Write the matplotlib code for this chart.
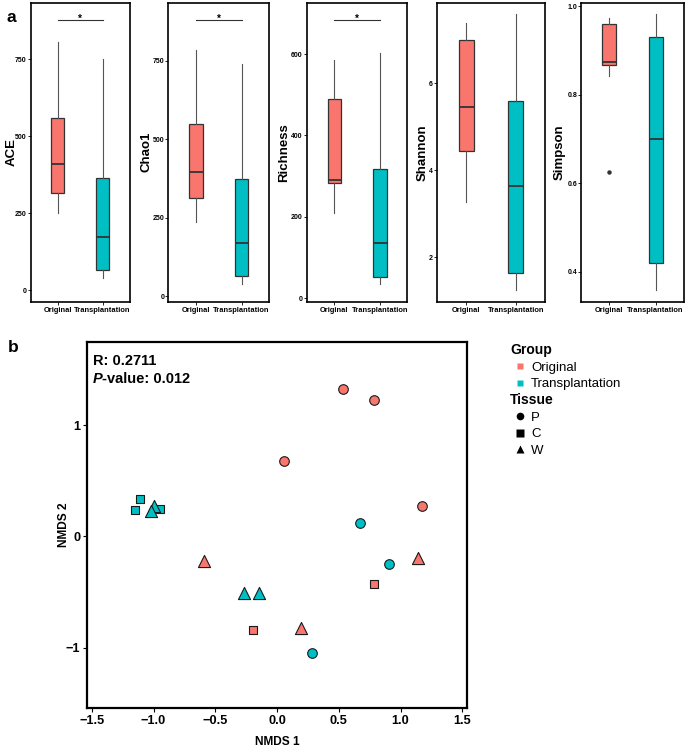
import matplotlib
matplotlib.use("Agg")
import matplotlib.pyplot as plt
from matplotlib.lines import Line2D
from matplotlib.ticker import FormatStrFormatter

plt.rcParams['font.family'] = ['Liberation Sans', 'DejaVu Sans']

# ---------------- data ----------------
groups = ["Original", "Transplantation"]
colors = {"Original": "#F8766D", "Transplantation": "#00BFC4"}

metrics = ["ACE", "Chao1", "Richness", "Shannon", "Simpson"]
# (whislo, q1, med, q3, whishi)
orig_stats = {
    "ACE": (249, 316, 411, 558, 805),
    "Chao1": (237, 314, 397, 549, 786),
    "Richness": (210, 284, 290, 489, 585),
    "Shannon": (3.26, 4.45, 5.46, 7.00, 7.38),
    "Simpson": (0.841, 0.866, 0.874, 0.960, 0.974),
}
trans_stats = {
    "ACE": (40, 65, 172, 365, 751),
    "Chao1": (38, 65, 169, 374, 739),
    "Richness": (34, 52, 135, 317, 603),
    "Shannon": (1.25, 1.63, 3.65, 5.60, 7.59),
    "Simpson": (0.359, 0.419, 0.699, 0.929, 0.982),
}
orig_fliers = {"ACE": [], "Chao1": [], "Richness": [], "Shannon": [], "Simpson": [0.626]}
trans_fliers = {m: [] for m in metrics}
ylims = {
    "ACE": (-38, 934),
    "Chao1": (-18, 936),
    "Richness": (-8.3, 726),
    "Shannon": (0.979, 7.853),
    "Simpson": (0.332, 1.0075),
}
yticks = {
    "ACE": [0, 250, 500, 750],
    "Chao1": [0, 250, 500, 750],
    "Richness": [0, 200, 400, 600],
    "Shannon": [2, 4, 6],
    "Simpson": [0.4, 0.6, 0.8, 1.0],
}
sig_y = {"ACE": 878, "Chao1": 882, "Richness": 684}
sig_label = "*"

# NMDS
nmds_group = (["Original"] * 9) + (["Transplantation"] * 10)
nmds_tissue = ["P", "P", "P", "P", "C", "C", "W", "W", "W",
               "P", "P", "P", "C", "C", "C", "W", "W", "W", "W"]
nmds1 = [0.532, 0.787, 1.173, 0.057, 0.787, -0.192, -0.590, 0.195, 1.140,
         0.670, 0.903, 0.281, -1.109, -1.149, -0.946, -0.270, -0.146, -1.000, -1.022]
nmds2 = [1.323, 1.222, 0.275, 0.674, -0.429, -0.844, -0.219, -0.827, -0.198,
         0.117, -0.246, -1.050, 0.332, 0.236, 0.242, -0.510, -0.510, 0.272, 0.230]
tissues = ["P", "C", "W"]
markers = {"P": "o", "C": "s", "W": "^"}
msizes = {"P": 48, "C": 38, "W": 76}
anosim_R = "0.2711"
anosim_p = "0.012"

# ---------------- figure ----------------
W, H = 685, 747
fig = plt.figure(figsize=(W / 100, H / 100), dpi=100)


def rect(l, r, t, b):
    return [l / W, 1 - b / H, (r - l) / W, (b - t) / H]


panel_px = [(30.7, 129.5), (168.3, 269), (307, 407.3), (436.7, 545.3), (581.3, 683.5)]
ylabel_right_px = [18, 152, 290, 429, 566]
top_px, bot_px = 2.7, 301.7

for m, (l, r), lr in zip(metrics, panel_px, ylabel_right_px):
    ax = fig.add_axes(rect(l, r, top_px, bot_px))
    stats = []
    for g, st, fl in ((groups[0], orig_stats, orig_fliers), (groups[1], trans_stats, trans_fliers)):
        lo, q1, med, q3, hi = st[m]
        stats.append(dict(whislo=lo, q1=q1, med=med, q3=q3, whishi=hi, fliers=fl[m], label=g))
    bp = ax.bxp(stats, positions=[1, 2], widths=0.3, patch_artist=True, showcaps=False,
                boxprops=dict(edgecolor="#333333", linewidth=0.9),
                whiskerprops=dict(color="#555555", linewidth=0.8),
                medianprops=dict(color="#333333", linewidth=1.3),
                flierprops=dict(marker="o", markersize=2.2, markerfacecolor="#333333",
                                markeredgecolor="#333333"))
    for patch, g in zip(bp["boxes"], groups):
        patch.set_facecolor(colors[g])
    ax.set_xlim(0.4, 2.6)
    ax.set_ylim(*ylims[m])
    ax.set_yticks(yticks[m])
    if m == "Simpson":
        ax.yaxis.set_major_formatter(FormatStrFormatter('%.1f'))
    ax.set_xticks([1, 2])
    ax.set_xticklabels(groups)
    ax.tick_params(axis="y", labelsize=5, length=2, width=0.6, pad=1)
    ax.tick_params(axis="x", labelsize=5.4, length=2, width=0.6, pad=1.5)
    for lab in ax.get_xticklabels() + ax.get_yticklabels():
        lab.set_fontweight("bold")
    ax.set_ylabel(m, fontsize=9.5, fontweight="bold")
    ax.yaxis.set_label_coords((lr - l) / (r - l), 0.5)
    for s in ax.spines.values():
        s.set_linewidth(1.2)
    if m in sig_y:
        ax.plot([1, 2], [sig_y[m], sig_y[m]], color="#333333", lw=0.8)
        ax.annotate(sig_label, xy=(1.5, sig_y[m]), xytext=(0, -3), textcoords="offset points",
                    ha="center", va="bottom", fontsize=7, fontweight="bold")

fig.text(6 / W, 1 - 18 / H, "a", fontsize=12.5, fontweight="bold", va="center", ha="left")
fig.text(8 / W, 1 - 347.5 / H, "b", fontsize=12.5, fontweight="bold", va="center", ha="left")

# NMDS axes
bl, br, bt, bb = 87.3, 467.3, 342.3, 707.7
axb = fig.add_axes(rect(bl, br, bt, bb))
for t in tissues:
    for g in groups:
        xs = [x for x, gg, tt in zip(nmds1, nmds_group, nmds_tissue) if gg == g and tt == t]
        ys = [y for y, gg, tt in zip(nmds2, nmds_group, nmds_tissue) if gg == g and tt == t]
        axb.scatter(xs, ys, s=msizes[t], marker=markers[t], facecolor=colors[g],
                    edgecolor="#1a1a1a", linewidth=0.8, zorder=3)
axb.set_xlim(-1.536, 1.54)
axb.set_ylim(-1.539, 1.743)
axb.set_xticks([-1.5, -1.0, -0.5, 0.0, 0.5, 1.0, 1.5])
axb.set_yticks([-1, 0, 1])
axb.tick_params(labelsize=9.2, length=3, width=0.8, pad=2)
for lab in axb.get_xticklabels() + axb.get_yticklabels():
    lab.set_fontweight("bold")
for s in axb.spines.values():
    s.set_linewidth(1.6)
axb.set_xlabel("NMDS 1", fontsize=8.6, fontweight="bold")
axb.xaxis.set_label_coords(0.5, -(736 - bb) / (bb - bt))
axb.set_ylabel("NMDS 2", fontsize=8.6, fontweight="bold")
axb.yaxis.set_label_coords(-(bl - 70.5) / (br - bl), 0.5)

t1 = axb.text(0.014, 0.948, "R: " + anosim_R, transform=axb.transAxes, fontsize=10.5,
              fontweight="bold", ha="left", va="center")
tp = axb.text(0.014, 0.899, "P", transform=axb.transAxes, fontsize=10.5,
              fontweight="bold", style="italic", ha="left", va="center")
axb.annotate("-value: " + anosim_p, xy=(1, 0), xycoords=tp, ha="left", va="bottom",
             fontsize=10.5, fontweight="bold")

# legends
grp_handles = [Line2D([], [], marker="s", linestyle="", markersize=5, markerfacecolor=colors[g],
                      markeredgecolor="none") for g in groups]
tis_handles = [Line2D([], [], marker=markers[t], linestyle="", markersize=5.5,
                      markerfacecolor="black", markeredgecolor="none") for t in tissues]
leg_kw = dict(loc="upper left", frameon=False, fontsize=9.5,
              title_fontproperties={"weight": "bold", "size": 10}, alignment="left",
              borderpad=0, borderaxespad=0, handlelength=1.5, handletextpad=0.1,
              labelspacing=0.32)
leg1 = fig.legend(grp_handles, groups, title="Group",
                  bbox_to_anchor=(510 / W, 1 - 343.5 / H), **leg_kw)
leg2 = fig.legend(tis_handles, tissues, title="Tissue",
                  bbox_to_anchor=(510 / W, 1 - 393.5 / H), **leg_kw)

fig.savefig("out.png", dpi=100)
